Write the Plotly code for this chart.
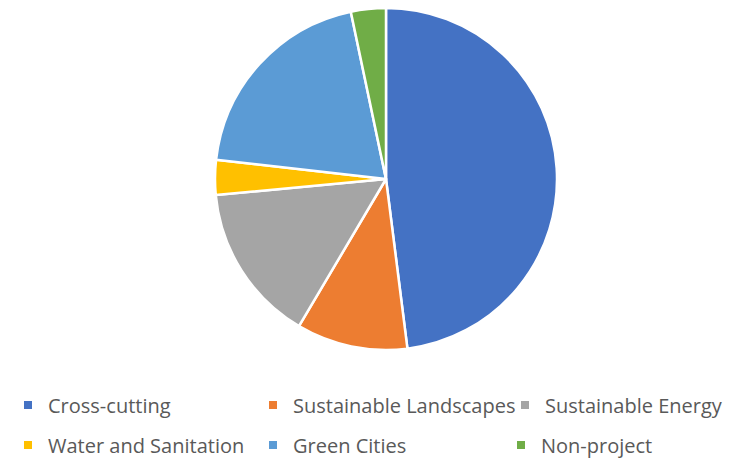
import plotly.graph_objects as go

labels = ["Cross-cutting", "Sustainable Landscapes", "Sustainable Energy",
          "Water and Sanitation", "Green Cities", "Non-project"]
values = [48.0, 10.5, 15.0, 3.3, 19.9, 3.3]
colors = ["#4472C4", "#ED7D31", "#A5A5A5", "#FFC000", "#5B9BD5", "#70AD47"]

W, H = 731, 467
OFF = 8  # page body margin offset
cx, cy, r = 386 - OFF, 179 - OFF, 171

fig = go.Figure()
fig.add_trace(go.Pie(
    labels=labels, values=values, sort=False, direction="clockwise", rotation=0,
    marker=dict(colors=colors, line=dict(color="white", width=2.5)),
    textinfo="none", hoverinfo="label+percent", showlegend=False,
    domain=dict(x=[(cx - r) / W, (cx + r) / W], y=[1 - (cy + r) / H, 1 - (cy - r) / H]),
))

# per-entry legend widths (pixels) to mimic column positions
entry_w = [200, 207, 182, 200, 203, 182]
for i, (lab, col) in enumerate(zip(labels, colors)):
    fig.add_trace(go.Scatter(
        x=[None], y=[None], mode="markers", name=lab,
        marker=dict(symbol="square", size=8, color=col),
        legend="legend" if i < 3 else "legend2",
        legendwidth=entry_w[i],
    ))

leg_common = dict(orientation="h", xanchor="left", yanchor="middle",
                  entrywidthmode="pixels",
                  font=dict(family="Open Sans", size=20, color="#595959"),
                  bgcolor="rgba(0,0,0,0)", itemclick=False, itemdoubleclick=False)

fig.update_layout(
    width=W, height=H,
    margin=dict(l=0, r=0, t=0, b=0),
    paper_bgcolor="white", plot_bgcolor="white",
    xaxis=dict(visible=False), yaxis=dict(visible=False),
    legend=dict(x=0, y=1 - (405 - OFF) / H, **leg_common),
    legend2=dict(x=0, y=1 - (445 - OFF) / H, **leg_common),
)

fig.write_html("out.html")
